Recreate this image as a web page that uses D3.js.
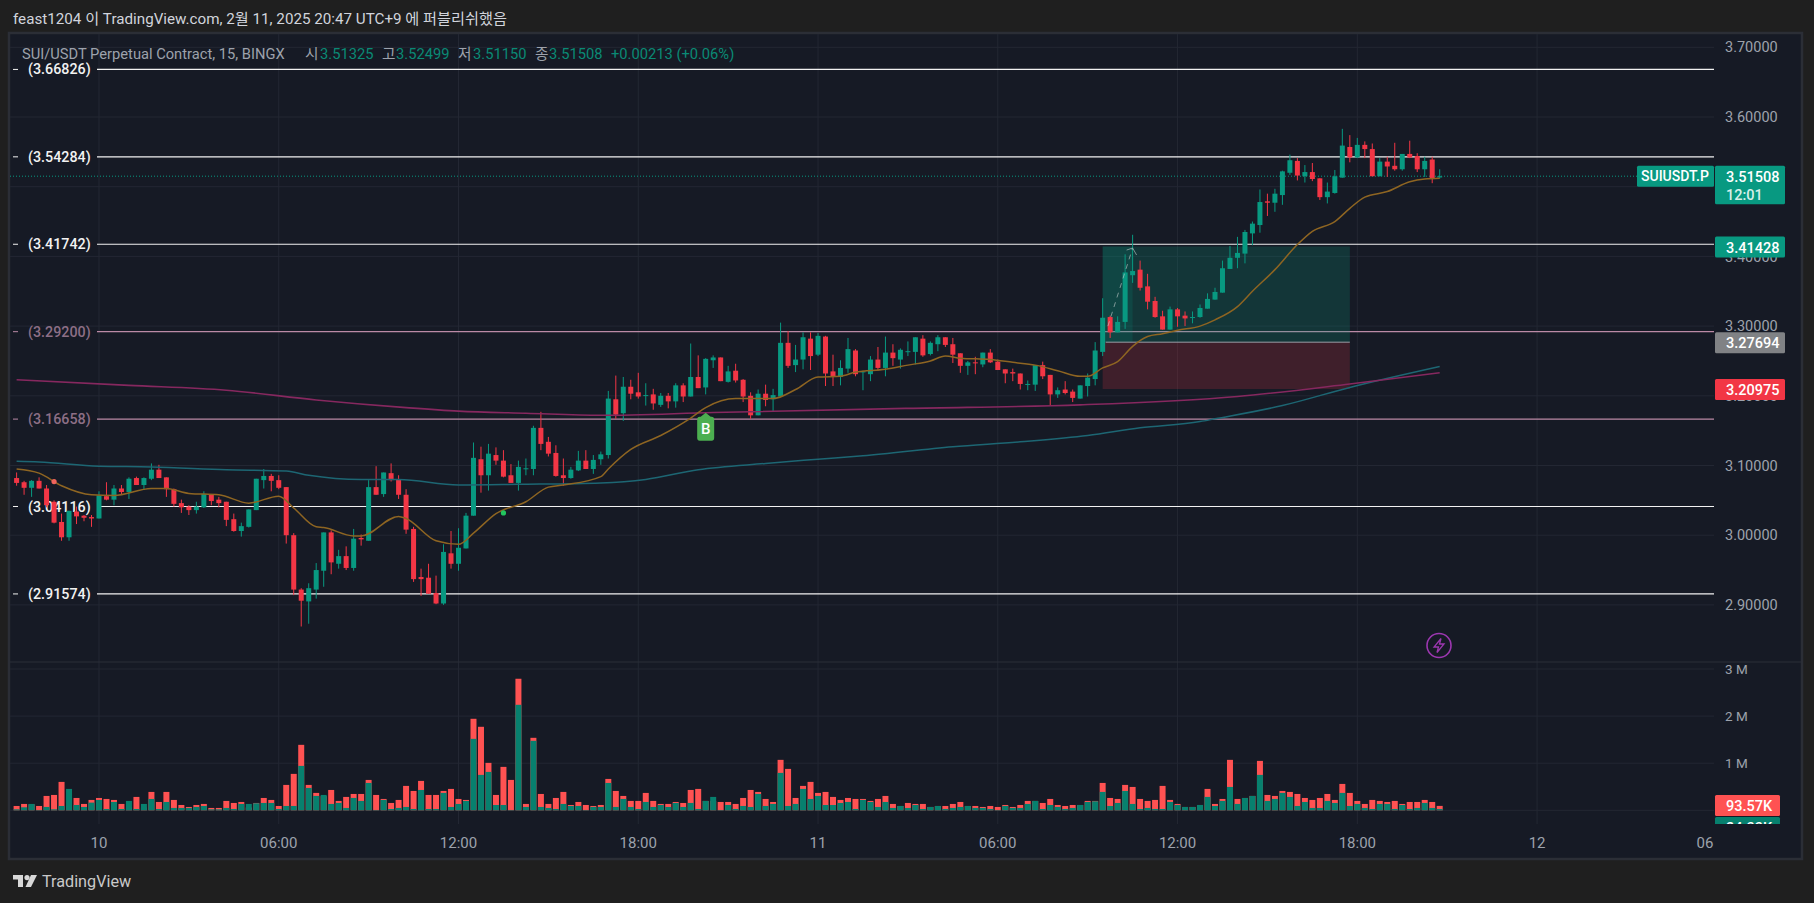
<!DOCTYPE html>
<html>
<head>
<meta charset="utf-8">
<style>
  body { margin: 0; background: #1f1f1f; }
  text { font-family: Roboto, "Noto Sans CJK KR", sans-serif; }
  .axis path, .axis line { display: none; }
</style>
</head>
<body>
<script src="https://cdn.jsdelivr.net/npm/d3@7/dist/d3.min.js"></script>
<script>
// 15 minute candles, left to right
var opens = [
  3.082,3.076,3.068,3.078,3.067,3.048,3.019,2.997,3.034,3.028,
  3.026,3.024,3.056,3.051,3.067,3.062,3.082,3.072,3.081,3.094,
  3.083,3.066,3.046,3.041,3.036,3.040,3.059,3.051,3.048,3.023,
  3.006,3.012,3.036,3.079,3.085,3.079,3.069,3.000,2.922,2.905,
  2.922,2.949,3.004,2.959,2.970,2.953,2.996,2.992,3.069,3.059,
  3.089,3.080,3.058,3.009,2.940,2.939,2.917,2.902,2.974,2.959,
  2.981,3.028,3.109,3.086,3.115,3.107,3.086,3.075,3.095,3.095,
  3.154,3.134,3.118,3.086,3.082,3.093,3.107,3.095,3.109,3.115,
  3.195,3.175,3.213,3.205,3.200,3.202,3.187,3.200,3.192,3.215,
  3.199,3.227,3.212,3.251,3.255,3.220,3.236,3.223,3.200,3.172,
  3.203,3.195,3.199,3.276,3.244,3.252,3.282,3.259,3.285,3.235,
  3.227,3.239,3.265,3.234,3.231,3.252,3.240,3.262,3.252,3.263,
  3.263,3.282,3.260,3.274,3.284,3.274,3.261,3.243,3.248,3.245,
  3.262,3.249,3.238,3.234,3.232,3.216,3.216,3.244,3.230,3.202,
  3.209,3.206,3.196,3.214,3.224,3.263,3.313,3.291,3.306,3.373,
  3.381,3.357,3.336,3.314,3.295,3.324,3.315,3.312,3.313,3.325,
  3.338,3.348,3.382,3.398,3.404,3.433,3.445,3.479,3.477,3.488,
  3.520,3.537,3.515,3.521,3.512,3.485,3.491,3.513,3.557,3.542,
  3.560,3.554,3.515,3.536,3.530,3.525,3.547,3.544,3.525,3.539,3.51325];
var highs = [
  3.090,3.078,3.079,3.083,3.072,3.050,3.031,3.035,3.041,3.029,
  3.029,3.063,3.076,3.072,3.072,3.083,3.084,3.083,3.103,3.101,
  3.083,3.067,3.051,3.043,3.048,3.063,3.059,3.055,3.048,3.031,
  3.018,3.037,3.081,3.095,3.088,3.086,3.069,3.003,2.924,2.931,
  2.960,3.004,3.007,2.979,2.984,3.009,3.001,3.079,3.099,3.090,
  3.103,3.086,3.066,3.012,2.952,2.959,2.942,2.987,3.006,3.010,
  3.032,3.133,3.127,3.131,3.126,3.122,3.102,3.107,3.110,3.157,
  3.177,3.141,3.129,3.110,3.098,3.121,3.122,3.115,3.120,3.207,
  3.229,3.227,3.223,3.233,3.218,3.210,3.204,3.204,3.218,3.218,
  3.275,3.258,3.254,3.258,3.255,3.243,3.246,3.224,3.205,3.209,
  3.216,3.210,3.305,3.293,3.273,3.291,3.291,3.290,3.286,3.259,
  3.251,3.283,3.267,3.236,3.257,3.270,3.285,3.274,3.268,3.278,
  3.284,3.287,3.278,3.287,3.284,3.283,3.261,3.250,3.256,3.262,
  3.267,3.252,3.238,3.239,3.232,3.222,3.244,3.249,3.230,3.212,
  3.221,3.209,3.215,3.232,3.277,3.340,3.315,3.314,3.403,3.431,
  3.394,3.375,3.342,3.322,3.328,3.326,3.321,3.321,3.331,3.347,
  3.355,3.394,3.415,3.428,3.438,3.450,3.496,3.490,3.497,3.523,
  3.546,3.541,3.531,3.534,3.512,3.506,3.524,3.583,3.574,3.570,
  3.565,3.562,3.541,3.543,3.563,3.547,3.566,3.548,3.543,3.543,3.52499];
var lows = [
  3.071,3.058,3.055,3.067,3.040,3.017,2.992,2.992,3.016,3.020,
  3.012,3.024,3.050,3.043,3.058,3.052,3.072,3.065,3.079,3.082,
  3.055,3.041,3.032,3.029,3.031,3.039,3.043,3.040,3.013,3.005,
  2.998,3.011,3.036,3.067,3.063,3.066,2.988,2.914,2.869,2.873,
  2.909,2.926,2.944,2.952,2.950,2.949,2.985,2.992,3.058,3.055,
  3.077,3.052,3.002,2.933,2.913,2.916,2.901,2.900,2.952,2.949,
  2.981,3.028,3.061,3.064,3.101,3.083,3.075,3.064,3.086,3.086,
  3.122,3.113,3.084,3.071,3.081,3.092,3.095,3.088,3.101,3.110,
  3.167,3.164,3.195,3.196,3.186,3.180,3.184,3.182,3.183,3.191,
  3.199,3.211,3.202,3.240,3.221,3.219,3.219,3.191,3.167,3.172,
  3.185,3.178,3.199,3.240,3.234,3.238,3.237,3.257,3.214,3.214,
  3.215,3.233,3.228,3.208,3.221,3.236,3.228,3.243,3.239,3.257,
  3.245,3.256,3.258,3.264,3.270,3.247,3.233,3.230,3.231,3.241,
  3.247,3.237,3.218,3.221,3.209,3.208,3.207,3.224,3.186,3.197,
  3.202,3.191,3.196,3.199,3.215,3.257,3.283,3.291,3.296,3.362,
  3.351,3.324,3.312,3.295,3.295,3.299,3.300,3.304,3.312,3.325,
  3.338,3.348,3.382,3.383,3.390,3.416,3.434,3.458,3.464,3.474,
  3.517,3.509,3.506,3.508,3.481,3.476,3.490,3.513,3.535,3.541,
  3.541,3.515,3.515,3.514,3.523,3.523,3.541,3.521,3.514,3.505,3.5115];
var closes = [
  3.075,3.068,3.078,3.067,3.043,3.018,2.997,3.035,3.027,3.025,
  3.024,3.057,3.051,3.067,3.062,3.081,3.072,3.082,3.094,3.082,
  3.066,3.045,3.040,3.036,3.041,3.059,3.049,3.046,3.022,3.006,
  3.013,3.037,3.081,3.085,3.078,3.068,3.000,2.922,2.906,2.924,
  2.950,3.004,2.961,2.970,2.953,2.995,2.994,3.069,3.058,3.090,
  3.079,3.058,3.008,2.937,2.937,2.916,2.902,2.976,2.959,2.982,
  3.028,3.111,3.086,3.117,3.107,3.084,3.075,3.098,3.096,3.154,
  3.131,3.117,3.085,3.082,3.094,3.107,3.095,3.108,3.116,3.196,
  3.173,3.213,3.203,3.199,3.201,3.189,3.200,3.192,3.215,3.199,
  3.227,3.211,3.253,3.255,3.221,3.235,3.222,3.199,3.172,3.203,
  3.194,3.201,3.276,3.243,3.252,3.284,3.257,3.286,3.232,3.227,
  3.240,3.267,3.231,3.235,3.252,3.240,3.262,3.254,3.266,3.264,
  3.284,3.258,3.276,3.284,3.273,3.259,3.243,3.248,3.247,3.262,
  3.248,3.237,3.232,3.232,3.217,3.217,3.244,3.228,3.202,3.208,
  3.204,3.197,3.215,3.226,3.265,3.312,3.291,3.306,3.377,3.379,
  3.355,3.335,3.313,3.295,3.324,3.314,3.311,3.313,3.326,3.339,
  3.349,3.383,3.398,3.405,3.435,3.447,3.478,3.477,3.490,3.522,
  3.538,3.516,3.521,3.511,3.485,3.493,3.515,3.559,3.542,3.560,
  3.554,3.515,3.536,3.529,3.525,3.547,3.542,3.525,3.537,3.511,3.51508];

// volume split, in thousands
var redVol = [
  92,135,128,92,305,326,603,100,262,135,
  220,262,241,220,135,60,284,60,390,177,
  390,220,113,71,113,135,50,50,199,156,
  177,60,156,262,220,92,539,773,1390,539,
  369,300,432,199,284,347,347,645,326,241,
  156,220,518,411,624,326,326,411,454,241,
  220,1943,1773,1007,326,922,645,2793,135,1539,
  347,135,262,390,113,177,113,92,113,666,
  411,305,199,199,369,199,135,135,177,156,
  432,454,199,200,177,177,135,262,432,390,
  241,177,1071,879,262,518,603,369,390,284,
  220,262,241,241,199,241,305,135,92,156,
  135,135,71,92,92,135,177,92,92,71,
  92,71,113,71,113,199,199,156,241,113,
  92,113,113,199,199,581,262,241,539,496,
  241,199,220,518,220,135,71,71,113,454,
  135,241,1071,241,262,305,1049,326,305,411,
  390,347,262,220,262,347,220,560,369,199,
  135,220,199,177,199,135,177,177,220,177,93.57];
var tealVol = [
  21,64,135,7,71,21,92,454,113,71,
  163,220,28,177,28,199,28,135,241,28,
  177,50,50,50,71,92,21,21,50,28,
  135,135,149,156,156,28,92,92,943,475,
  305,326,135,156,50,262,199,581,7,220,
  28,50,71,28,432,28,28,369,71,135,
  199,1517,752,815,113,113,7,2240,71,1475,
  71,50,28,135,92,92,7,71,71,581,
  71,241,71,28,177,71,113,71,156,71,
  156,28,199,284,7,113,28,92,71,347,
  92,135,794,92,135,454,241,305,113,113,
  156,177,28,220,177,71,177,50,92,50,
  113,28,71,92,28,50,71,92,50,50,
  28,7,92,50,50,135,199,28,113,71,
  28,50,113,177,191,390,92,156,411,135,
  28,50,28,28,177,113,71,71,113,284,
  92,199,496,135,262,305,752,199,241,369,
  284,92,177,50,50,199,156,369,92,135,
  50,28,135,135,28,113,28,50,156,50,28];

// moving averages, read at the bar numbers in the *Bars lists
var emaBars = [0,3,6,10,13,18,20,23,27,31,35,37,40,41,45,46,51,52,56,59,61,64,68,71,73,78,79,82,86,90,92,96,98,101,104,107,110,112,116,119,122,124,126,130,133,136,139,142,143,145,147,149,151,153,155,158,160,163,165,168,171,173,176,178,180,183,186,188,190];
var emaVals = [3.095,3.089,3.071,3.058,3.057,3.067,3.067,3.060,3.058,3.046,3.056,3.039,3.012,3.011,2.999,2.999,3.027,3.024,2.992,2.987,3.003,3.031,3.048,3.069,3.072,3.084,3.095,3.123,3.143,3.168,3.183,3.196,3.196,3.196,3.209,3.227,3.228,3.234,3.238,3.244,3.250,3.257,3.254,3.252,3.248,3.244,3.236,3.228,3.228,3.240,3.249,3.271,3.285,3.289,3.294,3.300,3.309,3.328,3.350,3.381,3.417,3.436,3.450,3.469,3.485,3.493,3.507,3.511,3.512];
var tealBars = [0,3,11,18,28,36,39,46,51,59,67,78,84,91,100,107,113,125,134,143,150,158,160,169,178,190];
var tealVals = [3.106,3.105,3.099,3.098,3.094,3.092,3.086,3.080,3.080,3.072,3.073,3.075,3.080,3.094,3.103,3.109,3.114,3.127,3.134,3.143,3.154,3.163,3.167,3.186,3.212,3.242];
var maroonBars = [0,15,28,40,52,59,68,78,93,119,142,163,178,190];
var maroonVals = [3.223,3.215,3.208,3.194,3.183,3.178,3.175,3.172,3.176,3.182,3.187,3.199,3.217,3.233];

// drawn price levels
var whiteLevels = [3.66826,3.54284,3.41742,3.04116,2.91574];
var pinkLevels = [3.29200,3.16658];

var gridPrices = [3.7,3.6,3.5,3.4,3.3,3.2,3.1,3.0,2.9];
// 3.5 sits completely behind the last price tag, so it gets no label
var priceTicks = [3.7,3.6,3.4,3.3,3.2,3.1,3.0,2.9];
var volTicks = [3000,2000,1000];
var timeTicks = [11,35,59,83,107,131,155,179,203,227];
var timeLabels = ['10','06:00','12:00','18:00','11','06:00','12:00','18:00','12','06'];

// long position tool
var boxStart = 145, boxEnd = 178, boxActive = 149;
var target = 3.41428, entry = 3.27694, stop = 3.20975;
var lastClose = 3.51508;

var width = 1814;
var height = 903;
var plotLeft = 10, plotRight = 1714, panelRight = 1801;
var paneTop = 34, paneSplit = 662, plotBottom = 824, panelBottom = 858;

var upColor = '#089981', downColor = '#f23645';
var textColor = '#9da2ac';

var x = d3.scaleLinear().domain([0, 190]).range([16.6, 1439.7]);
var y = d3.scaleLinear().domain([2.9, 3.7]).range([604.9, 47.3]);
var yVol = d3.scaleLinear().domain([0, 3000]).range([810.3, 669]);

var svg = d3.select('body').append('svg')
    .attr('width', width)
    .attr('height', height)
    .style('display', 'block');

var defs = svg.append('defs');
defs.append('clipPath').attr('id', 'price-clip').append('rect')
    .attr('x', plotLeft).attr('y', paneTop)
    .attr('width', plotRight - plotLeft).attr('height', paneSplit - paneTop);
defs.append('clipPath').attr('id', 'vol-clip').append('rect')
    .attr('x', plotLeft).attr('y', paneSplit)
    .attr('width', plotRight - plotLeft).attr('height', plotBottom - paneSplit);
defs.append('clipPath').attr('id', 'label-clip').append('rect')
    .attr('x', plotRight).attr('y', paneSplit)
    .attr('width', panelRight - plotRight).attr('height', plotBottom - paneSplit);

// panel
svg.append('rect')
    .attr('x', plotLeft - 1).attr('y', paneTop - 1)
    .attr('width', panelRight - plotLeft + 2).attr('height', panelBottom - paneTop + 2)
    .attr('fill', '#161a25')
    .attr('stroke', '#2b2e36')
    .attr('stroke-width', 2.5);

// grid
var grid = svg.append('g').attr('stroke', '#232733').attr('stroke-width', 1);
grid.selectAll('.h').data(gridPrices).enter().append('line')
    .attr('x1', plotLeft).attr('x2', plotRight)
    .attr('y1', function(d) { return y(d); })
    .attr('y2', function(d) { return y(d); });
grid.selectAll('.hv').data(volTicks.concat([0])).enter().append('line')
    .attr('x1', plotLeft).attr('x2', plotRight)
    .attr('y1', function(d) { return yVol(d); })
    .attr('y2', function(d) { return yVol(d); });
grid.selectAll('.v').data(timeTicks.filter(function(d) { return x(d) < plotRight; })).enter().append('line')
    .attr('y1', paneTop).attr('y2', plotBottom)
    .attr('x1', function(d) { return x(d); })
    .attr('x2', function(d) { return x(d); });

svg.append('line')
    .attr('x1', plotLeft).attr('x2', panelRight)
    .attr('y1', paneSplit).attr('y2', paneSplit)
    .attr('stroke', '#2a2e39');

var price = svg.append('g').attr('clip-path', 'url(#price-clip)');

// last price dotted line
price.append('line')
    .attr('x1', plotLeft).attr('x2', 1637)
    .attr('y1', y(lastClose)).attr('y2', y(lastClose))
    .attr('stroke', upColor)
    .attr('stroke-dasharray', '1 2');

// levels with their labels
function drawLevels(levels, lineColor, labelColor) {
  var g = price.append('g');
  g.selectAll('line.level').data(levels).enter().append('line')
      .attr('class', 'level')
      .attr('x1', 97).attr('x2', plotRight)
      .attr('y1', function(d) { return y(d); })
      .attr('y2', function(d) { return y(d); })
      .attr('stroke', lineColor)
      .attr('stroke-width', 1.2);
  g.selectAll('line.tick').data(levels).enter().append('line')
      .attr('class', 'tick')
      .attr('x1', 13).attr('x2', 18)
      .attr('y1', function(d) { return y(d); })
      .attr('y2', function(d) { return y(d); })
      .attr('stroke', lineColor);
  g.selectAll('text').data(levels).enter().append('text')
      .attr('x', 28)
      .attr('y', function(d) { return y(d); })
      .attr('dy', '.35em')
      .attr('fill', labelColor)
      .attr('font-size', 14.3)
      .attr('font-weight', 500)
      .text(function(d) { return '(' + d.toFixed(5) + ')'; });
}
drawLevels(whiteLevels, '#f2f2f2', '#f2f2f2');
drawLevels(pinkLevels, '#bb8aa6', '#8d6f86');

// position tool
price.append('rect')
    .attr('x', x(boxStart)).attr('width', x(boxEnd) - x(boxStart))
    .attr('y', y(target)).attr('height', y(entry) - y(target))
    .attr('fill', upColor).attr('fill-opacity', 0.22);
price.append('rect')
    .attr('x', x(boxStart)).attr('width', x(boxEnd) - x(boxStart))
    .attr('y', y(entry)).attr('height', y(stop) - y(entry))
    .attr('fill', downColor).attr('fill-opacity', 0.19);
price.append('rect')
    .attr('x', x(boxStart)).attr('width', x(boxActive) - x(boxStart))
    .attr('y', y(target)).attr('height', y(entry) - y(target))
    .attr('fill', upColor).attr('fill-opacity', 0.16);
price.append('line')
    .attr('x1', x(boxStart) + 3).attr('x2', x(boxEnd))
    .attr('y1', y(entry)).attr('y2', y(entry))
    .attr('stroke', '#9a9ea6');

function maLine(bars, vals) {
  return d3.line()
      .x(function(d) { return x(d); })
      .y(function(d, i) { return y(vals[i]); })
      .curve(d3.curveMonotoneX)(bars);
}

// candles
var bars = d3.range(opens.length);
var candle = price.selectAll('g.candle').data(bars).enter().append('g')
    .attr('class', 'candle');
candle.append('line')
    .attr('x1', function(d) { return x(d); })
    .attr('x2', function(d) { return x(d); })
    .attr('y1', function(d) { return y(highs[d]); })
    .attr('y2', function(d) { return y(lows[d]); })
    .attr('stroke', function(d) { return closes[d] >= opens[d] ? upColor : downColor; });
candle.append('rect')
    .attr('x', function(d) { return x(d) - 2.5; })
    .attr('width', 5)
    .attr('y', function(d) { return y(Math.max(opens[d], closes[d])); })
    .attr('height', function(d) { return Math.max(1, Math.abs(y(opens[d]) - y(closes[d]))); })
    .attr('fill', function(d) { return closes[d] >= opens[d] ? upColor : downColor; });

price.append('path').attr('d', maLine(tealBars, tealVals))
    .attr('fill', 'none').attr('stroke', '#1d6673').attr('stroke-width', 1.5);
price.append('path').attr('d', maLine(maroonBars, maroonVals))
    .attr('fill', 'none').attr('stroke', '#86285f').attr('stroke-width', 1.6);
price.append('path').attr('d', maLine(emaBars, emaVals))
    .attr('fill', 'none').attr('stroke', '#8e6522').attr('stroke-width', 1.5);

// dashed arrow of the position
var arrowBars = [145.7, 149];
var arrowVals = [3.30, 3.412];
var arrow = price.append('g').attr('opacity', 0.65);
arrow.append('line')
    .attr('x1', x(arrowBars[0])).attr('x2', x(arrowBars[1]))
    .attr('y1', y(arrowVals[0])).attr('y2', y(arrowVals[1]))
    .attr('stroke', '#b9c4c4').attr('stroke-dasharray', '5 5');
arrow.append('path')
    .attr('d', 'M' + (x(149) - 6) + ',' + (y(3.412) + 2) + 'L' + x(149) + ',' + y(3.412) + 'L' + (x(149) + 4) + ',' + (y(3.412) + 7))
    .attr('fill', 'none').attr('stroke', '#b9c4c4');

// buy flag and signal dots
var buyBar = 92, buyPrice = 3.17;
var flag = price.append('g')
    .attr('transform', 'translate(' + x(buyBar) + ',' + y(buyPrice) + ')');
flag.append('path')
    .attr('d', 'M0,-4L5,0L6,0Q8.5,0 8.5,2.5L8.5,21Q8.5,24 6,24L-6,24Q-8.5,24 -8.5,21L-8.5,2.5Q-8.5,0 -6,0L-5,0Z')
    .attr('fill', '#4caf50');
flag.append('text')
    .attr('y', 12).attr('dy', '.35em')
    .attr('text-anchor', 'middle')
    .attr('fill', '#fff')
    .attr('font-size', 15)
    .attr('font-weight', 500)
    .text('B');

var dotBars = [5, 65];
var dotVals = [3.077, 3.032];
var dotColors = ['#f0645c', '#22c55e'];
price.selectAll('circle.dot').data(dotBars).enter().append('circle')
    .attr('class', 'dot')
    .attr('cx', function(d) { return x(d); })
    .attr('cy', function(d, i) { return y(dotVals[i]); })
    .attr('r', 2.6)
    .attr('fill', function(d, i) { return dotColors[i]; });

// lightning badge
var badge = svg.append('g').attr('transform', 'translate(1439,645.5)');
badge.append('circle').attr('r', 12).attr('fill', 'none').attr('stroke', '#9c37b0').attr('stroke-width', 1.6);
badge.append('path')
    .attr('d', 'M2,-7L-5,1.5L-0.5,1.5L-2,7L5,-1.5L0.5,-1.5Z')
    .attr('fill', 'none').attr('stroke', '#9c37b0').attr('stroke-width', 1.3);

// volume
var vol = svg.append('g').attr('clip-path', 'url(#vol-clip)');
vol.selectAll('rect.red').data(bars).enter().append('rect')
    .attr('class', 'red')
    .attr('x', function(d) { return x(d) - 3; })
    .attr('width', 6)
    .attr('y', function(d) { return yVol(redVol[d]); })
    .attr('height', function(d) { return yVol(0) - yVol(redVol[d]); })
    .attr('fill', '#ff5252');
vol.selectAll('rect.teal').data(bars).enter().append('rect')
    .attr('class', 'teal')
    .attr('x', function(d) { return x(d) - 3; })
    .attr('width', 6)
    .attr('y', function(d) { return yVol(tealVol[d]); })
    .attr('height', function(d) { return yVol(0) - yVol(tealVol[d]); })
    .attr('fill', '#07806e');

// axes
var priceAxis = d3.axisRight(y)
    .tickValues(priceTicks)
    .tickSize(0)
    .tickPadding(0)
    .tickFormat(function(d) { return d.toFixed(5); });
svg.append('g').attr('class', 'axis')
    .attr('transform', 'translate(1725,0)')
    .call(priceAxis)
    .selectAll('text')
    .attr('fill', textColor)
    .attr('font-size', 14.5);

var volAxis = d3.axisRight(yVol)
    .tickValues(volTicks)
    .tickSize(0)
    .tickPadding(0)
    .tickFormat(function(d) { return (d / 1000) + ' M'; });
svg.append('g').attr('class', 'axis')
    .attr('transform', 'translate(1725,0)')
    .call(volAxis)
    .selectAll('text')
    .attr('fill', textColor)
    .attr('font-size', 13.5);

var timeAxis = d3.axisBottom(x)
    .tickValues(timeTicks)
    .tickSize(0)
    .tickPadding(0)
    .tickFormat(function(d, i) { return timeLabels[i]; });
var timeG = svg.append('g').attr('class', 'axis')
    .attr('transform', 'translate(0,837)')
    .call(timeAxis);
timeG.selectAll('text')
    .attr('fill', textColor)
    .attr('font-size', 15);
// the last label is pushed in from the axis edge
timeG.selectAll('g.tick')
    .attr('transform', function(d) { return 'translate(' + Math.min(x(d), 1705) + ',0)'; });

// price tags on the axis
function tag(px, py, w, h, fill, lines) {
  var g = svg.append('g');
  g.append('rect').attr('x', px).attr('y', py).attr('width', w).attr('height', h)
      .attr('rx', 1.5).attr('fill', fill);
  lines.forEach(function(t, i) {
    g.append('text')
        .attr('x', px + 11).attr('y', py + 11 + i * 18).attr('dy', '.35em')
        .attr('fill', i ? '#d6efe9' : '#fff')
        .attr('font-size', 14.5).attr('font-weight', 500)
        .text(t);
  });
  return g;
}
tag(1715, y(lastClose) - 10.5, 70, 38.5, upColor, [lastClose.toFixed(5), '12:01']);
tag(1715, y(target) - 10, 70, 21, upColor, [target.toFixed(5)]);
tag(1715, y(entry) - 10, 70, 21, '#808285', [entry.toFixed(5)]);
tag(1715, y(stop) - 10, 70, 21, downColor, [stop.toFixed(5)]);

var nameTag = svg.append('g');
nameTag.append('rect').attr('x', 1637).attr('y', y(lastClose) - 10.5)
    .attr('width', 77).attr('height', 21).attr('rx', 1.5).attr('fill', upColor);
nameTag.append('text').attr('x', 1641).attr('y', y(lastClose)).attr('dy', '.35em')
    .attr('fill', '#fff').attr('font-size', 14).attr('font-weight', 500)
    .text('SUIUSDT.P');

tag(1715, yVol(93.57) - 11, 65, 21, '#ff5252', ['93.57K']);
tag(1715, yVol(93.57) + 11, 65, 21, '#07806e', ['24.33K'])
    .attr('clip-path', 'url(#label-clip)');

// legend line
var legendNames = ['SUI/USDT Perpetual Contract, 15, BINGX', '시', '고', '저', '종'];
var legendNameX = [22, 305, 382, 458, 535];
var legendVals = ['3.51325', '3.52499', '3.51150', '3.51508', '+0.00213 (+0.06%)'];
var legendValX = [320, 396, 473, 549, 611];
var legend = svg.append('g').attr('font-size', 14.7);
legend.selectAll('text.n').data(legendNames).enter().append('text')
    .attr('class', 'n')
    .attr('x', function(d, i) { return legendNameX[i]; })
    .attr('y', 53.7).attr('dy', '.35em')
    .attr('fill', '#9da2ac')
    .text(function(d) { return d; });
legend.selectAll('text.v').data(legendVals).enter().append('text')
    .attr('class', 'v')
    .attr('x', function(d, i) { return legendValX[i]; })
    .attr('y', 53.7).attr('dy', '.35em')
    .attr('fill', '#0a8a75')
    .text(function(d) { return d; });

// header and footer
svg.append('text')
    .attr('x', 13).attr('y', 19).attr('dy', '.35em')
    .attr('fill', '#d1d4dc')
    .attr('font-size', 15.2)
    .text('feast1204 이 TradingView.com, 2월 11, 2025 20:47 UTC+9 에 퍼블리쉬했음');

var logo = svg.append('g').attr('transform', 'translate(13,875)').attr('fill', '#d8d8d8');
logo.append('path').attr('d', 'M0,0H10V12H5V4.5H0Z');
logo.append('circle').attr('cx', 14).attr('cy', 2.6).attr('r', 2.6);
logo.append('path').attr('d', 'M18,0H24L18,12H12.5Z');
svg.append('text')
    .attr('x', 42).attr('y', 881.5).attr('dy', '.35em')
    .attr('fill', '#c9c9c9')
    .attr('font-size', 16.2)
    .text('TradingView');
</script>
</body>
</html>
